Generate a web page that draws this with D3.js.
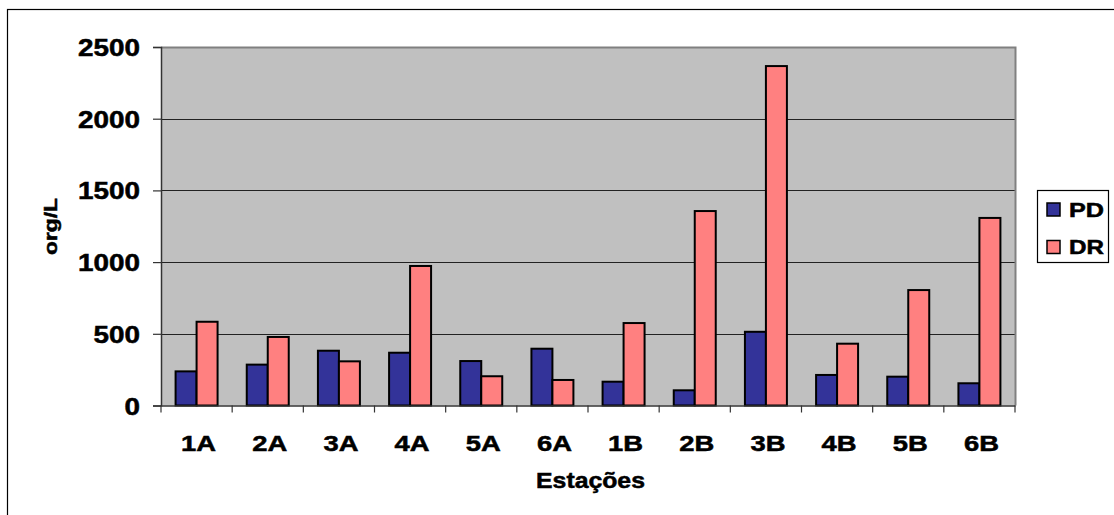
<!DOCTYPE html>
<html>
<head>
<meta charset="utf-8">
<script src="https://cdn.jsdelivr.net/npm/d3@7"></script>
<style>
  html, body { margin: 0; padding: 0; background: #fff; }
  svg { display: block; }
  text { font-family: "Liberation Sans", Arial, sans-serif; font-weight: bold; fill: #000; stroke: #000; stroke-width: 0.5px; }
</style>
</head>
<body>
<svg id="chart" width="1114" height="515"></svg>
<script>
const categories = ["1A","2A","3A","4A","5A","6A","1B","2B","3B","4B","5B","6B"];
const seriesNames = ["PD","DR"];
const pdValues = [238, 285, 382, 368, 310, 396, 166, 106, 514, 213, 201, 155];
const drValues = [584, 478, 308, 973, 204, 178, 575, 1356, 2367, 431, 805, 1308];
const yTicks = [0, 500, 1000, 1500, 2000, 2500];
const colors = ["#333399", "#FF8080"];
const xTitle = "Estações";
const yTitle = "org/L";

const svg = d3.select("#chart");
const W = 1114, H = 515;
const plot = {left: 161, right: 1015, top: 47, bottom: 405.5};

// fit a text element horizontally to a target width (in its own direction)
function fitText(sel, targetW, tx, ty, rot) {
  sel.each(function(d) {
    const node = this;
    const w = node.getBBox().width;
    const t = typeof targetW === "function" ? targetW(d) : targetW;
    const sx = w > 0 ? t / w : 1;
    const X = typeof tx === "function" ? tx(d) : tx;
    const Y = typeof ty === "function" ? ty(d) : ty;
    node.setAttribute("transform",
      `translate(${X},${Y})` + (rot ? ` rotate(${rot})` : "") + ` scale(${sx},1)`);
  });
}

// outer chart border
svg.append("rect").attr("x", 7.5).attr("y", 9.5).attr("width", W + 10).attr("height", H + 10)
  .attr("fill", "#fff").attr("stroke", "#000").attr("stroke-width", 1.2);

const x = d3.scaleBand().domain(categories).range([plot.left, plot.right]).padding(0);
const bw = x.bandwidth();
const xs = d3.scaleBand().domain(seriesNames).range([bw * 0.205, bw * 0.795]).padding(0);
const y = d3.scaleLinear().domain([0, 2500]).range([plot.bottom, plot.top]);

// plot background
svg.append("rect").attr("x", plot.left).attr("y", plot.top)
  .attr("width", plot.right - plot.left).attr("height", plot.bottom - plot.top)
  .attr("fill", "#C0C0C0");

// gridlines
svg.append("g").selectAll("line").data(yTicks.filter(d => d > 0 && d < 2500)).join("line")
  .attr("x1", plot.left).attr("x2", plot.right)
  .attr("y1", d => Math.round(y(d)) + 0.5).attr("y2", d => Math.round(y(d)) + 0.5)
  .attr("stroke", "#222").attr("stroke-width", 1.2);

// plot border top/right
svg.append("path")
  .attr("d", `M${plot.left},${plot.top + 0.5}H${plot.right + 0.5}V${plot.bottom}`)
  .attr("fill", "none").attr("stroke", "#808080").attr("stroke-width", 2);

// bars
const data = categories.map((c, i) => ({cat: c, vals: [pdValues[i], drValues[i]]}));
const groups = svg.append("g").selectAll("g").data(data).join("g")
  .attr("transform", d => `translate(${x(d.cat)},0)`);
groups.selectAll("rect").data(d => d.vals.map((v, j) => ({name: seriesNames[j], v, j}))).join("rect")
  .attr("x", d => xs(d.name))
  .attr("width", xs.bandwidth())
  .attr("y", d => y(d.v))
  .attr("height", d => y(0) - y(d.v))
  .attr("fill", d => colors[d.j])
  .attr("stroke", "#000").attr("stroke-width", 2);

// y axis
const yAxis = svg.append("g").attr("transform", `translate(${plot.left},0)`)
  .call(d3.axisLeft(y).tickValues(yTicks).tickSize(8).tickFormat(d3.format("d")));
yAxis.select(".domain").attr("stroke", "#333").attr("stroke-width", 1.5);
yAxis.selectAll(".tick line").attr("stroke", "#333").attr("stroke-width", 1.2);
yAxis.selectAll(".tick text").remove();
const yLab = yAxis.selectAll(".tick").append("text")
  .attr("text-anchor", "end")
  .style("font-size", "23.5px")
  .text(d => d);
fitText(yLab, d => 15.5 * String(d).length, -21, 8.5);

// x axis
const xAxis = svg.append("g").attr("transform", `translate(0,${plot.bottom})`)
  .call(d3.axisBottom(x).tickSize(0).tickFormat(""));
xAxis.select(".domain").attr("stroke", "#333").attr("stroke-width", 1.5);
const bounds = categories.map(c => x(c)).concat([plot.right]);
xAxis.append("g").selectAll("line").data(bounds).join("line")
  .attr("x1", d => d).attr("x2", d => d).attr("y1", 0).attr("y2", 7)
  .attr("stroke", "#333").attr("stroke-width", 1.2);
const xLab = xAxis.append("g").selectAll("text").data(categories).join("text")
  .attr("text-anchor", "middle")
  .style("font-size", "21.5px")
  .text(d => d);
fitText(xLab, 35, d => x(d) + bw / 2 + 2, 450.5 - plot.bottom);

// axis titles
const xt = svg.append("text")
  .attr("text-anchor", "middle").style("font-size", "21.5px").text(xTitle);
fitText(xt, 109, 590.5, 487.5);
const yt = svg.append("text")
  .attr("text-anchor", "middle").style("font-size", "18px").text(yTitle);
fitText(yt, 57, 56.5, 226.5, -90);

// legend
const lg = svg.append("g");
lg.append("rect").attr("x", 1037.5).attr("y", 190.5).attr("width", 71).attr("height", 72)
  .attr("fill", "#fff").attr("stroke", "#000").attr("stroke-width", 1.2);
seriesNames.forEach((n, i) => {
  const yy = 203 + i * 37.5;
  lg.append("rect").attr("x", 1047).attr("y", yy).attr("width", 13).attr("height", 13)
    .attr("fill", colors[i]).attr("stroke", "#000").attr("stroke-width", 1.5);
  const t = lg.append("text").style("font-size", "19.5px").text(n);
  fitText(t, 35, 1069, yy + 13.5);
});
</script>
</body>
</html>
